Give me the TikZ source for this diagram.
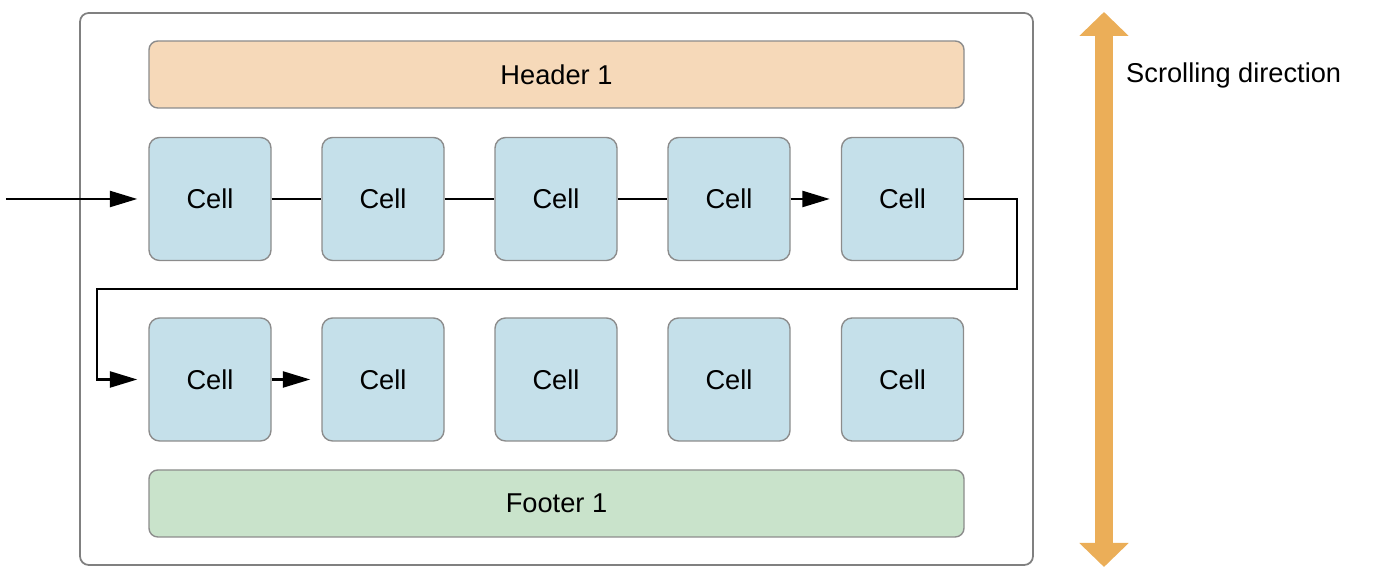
\documentclass[tikz,border=0pt]{standalone}
\usepackage{fontspec}
\setmainfont{Liberation Sans}
\usetikzlibrary{arrows.meta,positioning}

\definecolor{cellblue}{HTML}{C5E0EA}
\definecolor{headpeach}{HTML}{F6D9B9}
\definecolor{footgreen}{HTML}{C9E3CB}
\definecolor{scrollorange}{HTML}{EBAE58}

\begin{document}
\begin{tikzpicture}[
  font=\fontsize{15.5}{18}\selectfont,
  >={Triangle[length=5.5mm,width=3.2mm]},
  cell/.style={rectangle,rounded corners=6pt,draw=black!45,fill=cellblue,
               minimum width=24.4mm,minimum height=24.6mm,inner sep=0pt,line width=0.8pt},
  band/.style={rectangle,rounded corners=5pt,draw=black!45,
               minimum width=163mm,minimum height=13.4mm,inner sep=0pt,line width=0.8pt},
  frame/.style={rectangle,rounded corners=5pt,draw=black!50,
                minimum width=190.6mm,minimum height=110.4mm,inner sep=0pt,line width=1pt},
  link/.style={draw=black,line width=1.4pt},
  flow/.style={->,draw=black,line width=1.4pt,shorten >=2.2mm},
  fat/.style={{Triangle[length=4.8mm,width=9.6mm]}-{Triangle[length=4.8mm,width=9.6mm]},
              line width=3.6mm,draw=scrollorange},
]
\useasboundingbox (0,0) rectangle (27.64,11.76);

%% ---------------------------------------------------------------- frame
\node[frame] (frame) at (11.13,5.98) {};
\node[band,fill=headpeach] (header) at (11.13,10.27) {Header 1};
\node[band,fill=footgreen] (footer) at (11.13,1.69) {Footer 1};

%% ---------------------------------------------------------------- cells
\foreach \cx [count=\ci] in {4.20,7.66,11.12,14.58,18.05}{
  \node[cell] (c1-\ci) at (\cx,7.78) {Cell};
  \node[cell] (c2-\ci) at (\cx,4.17) {Cell};
}

%% ---------------------------------------------------------------- order
\coordinate (start) at (0.12,7.78);
\coordinate (wrap) at (1.94,5.98);
\draw[flow] (start) -- (c1-1.west);
\foreach \ci/\ck in {1/2,2/3,3/4}{
  \draw[link] (c1-\ci.east) -- (c1-\ck.west);
}
\draw[flow] (c1-4.east) -- (c1-5.west);
\draw[flow] (c1-5.east) -- ++(1.06,0) |- (wrap) |- (c2-1.west);
\draw[flow] (c2-1.east) -- (c2-2.west);

%% ------------------------------------------------------------ scrolling
\coordinate (sd-top) at (22.08,11.52);
\coordinate (sd-bot) at (22.08,0.42);
\draw[fat] (sd-top) -- (sd-bot);
\node[anchor=west] (sdlabel) at (22.40,10.26) {Scrolling direction};

\end{tikzpicture}
\end{document}
